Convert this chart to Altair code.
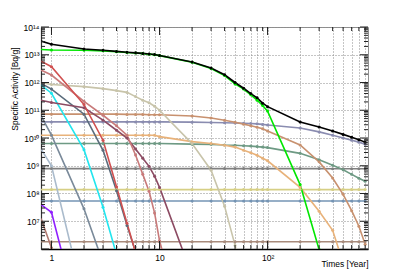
import altair as alt
import pandas as pd

N = None
times = [0.8, 1, 2, 3, 4, 5, 6, 7, 8, 9, 10, 20, 30, 40, 50, 60, 70, 80, 90, 100,
         200, 300, 400, 500, 600, 700, 800]

# values (Bq/g); None = not drawn
light_brown = [1.82e6, 1.82e6, 1.82e6, 1.82e6, 1.82e6, 1.82e6, 1.82e6, 1.82e6, 1.82e6, 1.82e6, 1.82e6,
               1.82e6, 1.82e6, 1.82e6, 1.82e6, 1.82e6, 1.82e6, 1.82e6, 1.82e6, 1.82e6,
               1.82e6, 1.82e6, 1.82e6, 1.82e6, 1.82e6, 1.82e6, 1.82e6]
steel = [5.4e7, 5.4e7, 5.4e7, 5.4e7, 5.4e7, 5.4e7, 5.4e7, 5.4e7, 5.4e7, 5.4e7, 5.4e7,
         5.4e7, 5.4e7, 5.4e7, 5.4e7, 5.4e7, 5.4e7, 5.4e7, 5.4e7, 5.4e7,
         5.4e7, 5.4e7, 5.4e7, 5.4e7, 5.4e7, 5.4e7, 5.4e7]
yellow = [1.38e8, 1.38e8, 1.38e8, 1.38e8, 1.38e8, 1.38e8, 1.38e8, 1.38e8, 1.38e8, 1.38e8, 1.38e8,
          1.38e8, 1.38e8, 1.38e8, 1.38e8, 1.38e8, 1.38e8, 1.38e8, 1.38e8, 1.38e8,
          1.38e8, 1.38e8, 1.38e8, 1.38e8, 1.38e8, 1.38e8, 1.38e8]
gray = [7.9e8, 7.9e8, 7.9e8, 7.9e8, 7.9e8, 7.9e8, 7.9e8, 7.9e8, 7.9e8, 7.9e8, 7.9e8,
        7.9e8, 7.9e8, 7.9e8, 7.9e8, 7.9e8, 7.9e8, 7.9e8, 7.9e8, 7.9e8,
        7.9e8, 7.9e8, 7.8e8, 7.8e8, 7.8e8, 7.8e8, 7.8e8]
sage = [6.3e9, 6.3e9, 6.3e9, 6.3e9, 6.3e9, 6.3e9, 6.3e9, 6.3e9, 6.3e9, 6.3e9, 6.3e9,
        6.0e9, 5.9e9, 5.6e9, 5.5e9, 5.25e9, 5.1e9, 4.9e9, 4.7e9, 4.5e9,
        2.8e9, 1.66e9, 1.05e9, 7.2e8, 4.9e8, 3.55e8, 2.75e8]
orange = [1.26e10, 1.26e10, 1.26e10, 1.26e10, 1.26e10, 1.26e10, 1.26e10, 1.26e10, 1.26e10, 1.26e10, 1.12e10,
          7.4e9, 6.3e9, 5.5e9, 4.7e9, 3.6e9, 2.95e9, 2.4e9, 1.86e9, 1.51e9,
          1.66e8, 2.3e7, 4.7e6, 3.2e5, N, N, N]
lavender = [3.8e10, 3.8e10, 3.8e10, 3.8e10, 3.8e10, 3.8e10, 3.8e10, 3.8e10, 3.8e10, 3.8e10, 3.8e10,
            3.72e10, 3.63e10, 3.55e10, 3.47e10, 3.39e10, 3.31e10, 3.24e10, 3.09e10, 2.95e10,
            2.29e10, 1.66e10, 1.26e10, 1.0e10, 8.3e9, 7.1e9, 6.0e9]
tan = [7.24e10, 7.24e10, 7.24e10, 7.24e10, 7.24e10, 7.08e10, 7.08e10, 7.08e10, 6.92e10, 6.92e10, 6.92e10,
       6.17e10, 5.25e10, 4.37e10, 3.72e10, 3.16e10, 2.75e10, 2.45e10, 2.14e10, 1.78e10,
       5.6e9, 1.38e9, 3.6e8, 9.3e7, 2.4e7, 6.6e6, 1.48e6]
rosy_brown = [1.26e7, 1.1e6, 100]
purple = [4.0e7, 2.1e7, 630]
light_blue = [4.0e9, 1.0e9, 1.4e4]
slate_b = [6.3e10, 1.26e10, 2.8e7, 3.2e5]
slate_a = [9.3e11, 5.8e11, 7.2e10, 3.6e9, 1.26e8, 7.1e6, 7.9e5]
cyan = [8.1e11, 4.1e11, 3.8e9, 3.2e7, 6.3e5]
beige = [1.0e12, 8.5e11, 7.1e11, 6.0e11, 5.1e11, 4.4e11, 3.1e11, 2.3e11, 1.86e11, 1.4e11, 1.0e11,
         6.3e9, 6.9e8, 3.5e7, 1.35e6, 6.3e4]
maroon = [2.3e11, 1.9e11, 1.23e11, 4.4e10, 1.9e10, 1.0e10, 4.0e9, 1.86e9, 9.5e8, 4.2e8, 1.66e8, 1.1e5]
rosy = [2.8e12, 1.86e12, 2.1e11, 6.6e10, 2.75e10, 1.26e10, 2.45e9, 4.9e8, 1.2e8, 2.0e7, 2.0e6, 100]
red = [5.9e12, 3.7e12, 1.6e11, 8.3e9, 1.74e8, 8.5e6, 7.6e5]
green = [1.55e13, 1.48e13, 1.45e13, 1.38e13, 1.29e13, 1.2e13, 1.15e13, 1.1e13, 1.05e13, 1.0e13, 9.3e12,
         5.4e12, 3.2e12, 1.78e12, 8.9e11, 5.8e11, 3.6e11, 2.3e11, 1.48e11, 9.3e10,
         2.1e8, 9.5e5]
black = [3.1e13, 2.4e13, 1.62e13, 1.45e13, 1.32e13, 1.23e13, 1.17e13, 1.12e13, 1.07e13, 1.02e13, 9.4e12,
         5.5e12, 3.3e12, 1.9e12, 1.0e12, 6.2e11, 4.0e11, 2.8e11, 1.8e11, 1.35e11,
         3.8e10, 2.5e10, 1.78e10, 1.35e10, 1.07e10, 8.7e9, 7.1e9]

series = [
    ("light_brown", light_brown, "#a88b7c"),
    ("steel", steel, "#7494b4"),
    ("yellow", yellow, "#d6cf85"),
    ("gray", gray, "#808080"),
    ("sage", sage, "#6e9a84"),
    ("orange", orange, "#e8b27a"),
    ("lavender", lavender, "#8a8cb0"),
    ("tan", tan, "#c8916f"),
    ("rosy_brown", rosy_brown, "#b07870"),
    ("purple", purple, "#9020ff"),
    ("light_blue", light_blue, "#aabbcc"),
    ("slate_b", slate_b, "#7a8a9a"),
    ("slate_a", slate_a, "#5a6b7b"),
    ("cyan", cyan, "#22e5ee"),
    ("beige", beige, "#c8c4aa"),
    ("maroon", maroon, "#8c4b63"),
    ("rosy", rosy, "#c87a7a"),
    ("red", red, "#d05050"),
    ("green", green, "#00e600"),
    ("black", black, "#000000"),
]

rows = []
for i, (name, vals, col) in enumerate(series):
    for t, v in zip(times, vals):
        if v is not None:
            rows.append({"s": name, "t": t, "v": v, "k": i})
df = pd.DataFrame(rows)

names = [s[0] for s in series]
cols = [s[2] for s in series]

x_minor = [1, 2, 3, 4, 5, 6, 7, 8, 9, 10, 20, 30, 40, 50, 60, 70, 80, 90,
           100, 200, 300, 400, 500, 600, 700, 800]
x_major = [1, 10, 100]
y_major = [1e6, 1e7, 1e8, 1e9, 1e10, 1e11, 1e12, 1e13, 1e14]
y_minor = [m * 10.0 ** e for e in range(6, 14) for m in range(2, 10)]
y_labels = [1e7, 1e8, 1e9, 1e10, 1e11, 1e12, 1e13, 1e14]

W, H = 327, 222
FONT = "Liberation Sans"

xscale = alt.Scale(type="log", domain=[0.8, 850], nice=False)
yscale = alt.Scale(type="log", domain=[1e6, 1e14], nice=False)

sup = "['⁰','¹','²','³','⁴','⁵','⁶','⁷','⁸','⁹']"
ylabel_expr = ("'10' + (round(log(datum.value)/LN10) >= 10 ? '¹' : '') + "
               + sup + "[round(log(datum.value)/LN10) % 10]")
xlabel_expr = "datum.value == 1 ? '1' : (datum.value == 10 ? '10' : (datum.value == 100 ? '10²' : ''))"

color = alt.Color("s:N", scale=alt.Scale(domain=names, range=cols), legend=None)

# axis layer (invisible marks) carrying the grid, labels and titles
axis_df = pd.DataFrame({"t": [1.0], "v": [1e10]})
axes = alt.Chart(axis_df).mark_point(opacity=0).encode(
    x=alt.X("t:Q", scale=xscale,
            axis=alt.Axis(values=x_minor, labelExpr=xlabel_expr, ticks=False, grid=True,
                          gridDash=[1, 2], gridColor="#8a8a8a", gridWidth=1,
                          domainColor="#000000", domainWidth=1.5,
                          labelFont=FONT, labelFontSize=8.5, labelPadding=4,
                          labelColor="#000000", labelFlush=False, labelOverlap=False,
                          title="Times [Year]", titleFont=FONT, titleFontSize=8.5,
                          titleFontWeight="normal", titleAlign="right", titleBaseline="middle",
                          titleX=W, titleY=14, titleColor="#000000")),
    y=alt.Y("v:Q", scale=yscale,
            axis=alt.Axis(values=y_labels, labelExpr=ylabel_expr, ticks=False, grid=True,
                          gridDash=[1, 2], gridColor="#8a8a8a", gridWidth=1,
                          domainColor="#333333", domainWidth=1.2,
                          labelFont=FONT, labelFontSize=8.5, labelPadding=2,
                          labelColor="#000000", labelFlush=False, labelOverlap=False,
                          title="Specific Activity [Bq/g]", titleFont=FONT, titleFontSize=8.5,
                          titleFontWeight="normal", titleAngle=-90, titleAlign="right",
                          titleBaseline="middle", titleX=-27, titleY=20, titleColor="#000000")),
)

lines = alt.Chart(df).mark_line(strokeWidth=1.6, clip=True).encode(
    x=alt.X("t:Q", scale=xscale),
    y=alt.Y("v:Q", scale=yscale),
    color=color,
    order=alt.Order("t:Q"),
    detail="k:Q",
)

points = alt.Chart(df).transform_filter("datum.t >= 1").mark_point(
    filled=True, size=9, opacity=1, clip=True
).encode(x=alt.X("t:Q", scale=xscale), y=alt.Y("v:Q", scale=yscale), color=color)


def tick_layer(vals, axis, a, b):
    d = pd.DataFrame({"t": vals, "v": vals})
    if axis == "y":
        return alt.Chart(d).mark_rule(color="#222222", strokeWidth=1).encode(
            y=alt.Y("v:Q", scale=yscale), x=alt.value(a), x2=alt.value(b))
    return alt.Chart(d).mark_rule(color="#222222", strokeWidth=1).encode(
        x=alt.X("t:Q", scale=xscale), y=alt.value(a), y2=alt.value(b))


ticks = [
    tick_layer(y_major, "y", 0, 8), tick_layer(y_minor, "y", 0, 4),
    tick_layer(y_major, "y", W, W - 8), tick_layer(y_minor, "y", W, W - 4),
    tick_layer(x_major, "x", H, H - 8), tick_layer(x_minor, "x", H, H - 4),
    tick_layer(x_major, "x", 0, 8), tick_layer(x_minor, "x", 0, 4),
]

chart = alt.layer(axes, lines, points, *ticks).properties(
    width=W, height=H,
    padding={"left": 33, "top": 19, "right": 33, "bottom": 20},
    autosize=alt.AutoSizeParams(type="none"),
).configure_view(stroke="#909090", strokeWidth=1)

chart.save("out.html", embed_options={"renderer": "svg", "actions": False})
